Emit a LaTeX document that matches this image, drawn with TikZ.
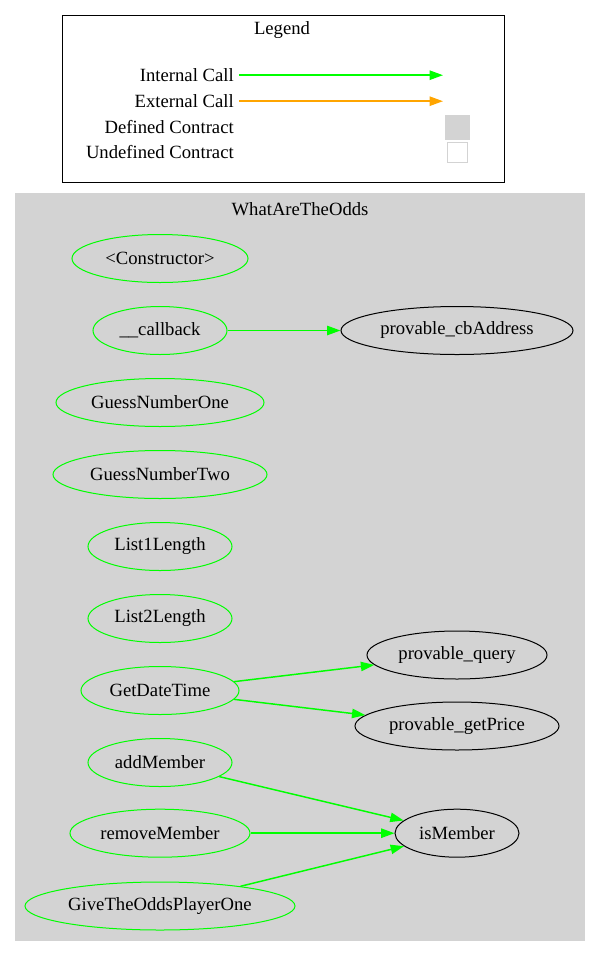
\documentclass[tikz,border=0pt]{standalone}
\usepackage{fontspec}
\setmainfont{Liberation Serif}
\usetikzlibrary{shapes.geometric,arrows.meta}
\definecolor{gvgreen}{HTML}{00FF00}
\definecolor{gvorange}{HTML}{FFA500}
\definecolor{gvgray}{HTML}{D3D3D3}
\tikzset{
  fn/.style={ellipse, draw=gvgreen, line width=0.75pt, inner sep=0pt, minimum height=36pt, minimum width={#1*1.5pt}, font=\fontsize{14}{16}\selectfont},
  ext/.style={ellipse, draw=black, line width=0.75pt, inner sep=0pt, minimum height=36pt, minimum width={#1*1.5pt}, font=\fontsize{14}{16}\selectfont},
  call/.style={draw=gvgreen, line width=1.1pt, -{Triangle[length=10pt,width=7pt]}},
  xcall/.style={draw=gvorange, line width=1.1pt, -{Triangle[length=10pt,width=7pt]}},
  lbl/.style={font=\fontsize{14}{16}\selectfont, inner sep=0pt},
}
\begin{document}
\begin{tikzpicture}[x=0.75pt,y=-0.75pt]
\useasboundingbox (0,0) rectangle (600,957);
% legend
\draw[line width=0.75pt] (62,15) rectangle (504,182);
\node[lbl] (legtitle) at (282,30.5) {Legend};
\node[lbl, anchor=east] (lint) at (234,75.5) {Internal Call};
\node[lbl, anchor=east] (lext) at (234,101.5) {External Call};
\node[lbl, anchor=east] (ldef) at (234,127) {Defined Contract};
\node[lbl, anchor=east] (lund) at (234,152.5) {Undefined Contract};
\coordinate (i1) at (239,75.2);
\coordinate (i2) at (443,75.2);
\coordinate (e1) at (239,101.2);
\coordinate (e2) at (443,101.2);
\draw[call] (i1) -- (i2);
\draw[xcall] (e1) -- (e2);
\node[fill=gvgray, draw=gvgray, minimum width=18pt, minimum height=18pt, inner sep=0pt] (defbox) at (457.5,127) {};
\node[fill=white, draw=gvgray, line width=0.75pt, minimum width=15.5pt, minimum height=15.5pt, inner sep=0pt] (undbox) at (457.5,152.5) {};
% cluster
\fill[gvgray] (15,193) rectangle (585,941);
\node[lbl] (ctitle) at (300,209.5) {WhatAreTheOdds};
% nodes
\node[fn=88] (ctor) at (160,258.5) {<Constructor>};
\node[fn=67] (cb) at (160,330.5) {\_\_callback};
\node[ext=116] (cba) at (457,330.5) {provable\_cbAddress};
\node[fn=104] (g1) at (160,402.5) {GuessNumberOne};
\node[fn=107] (g2) at (160,474.5) {GuessNumberTwo};
\node[fn=72] (l1) at (160,546.5) {List1Length};
\node[fn=72] (l2) at (160,618.5) {List2Length};
\node[fn=79] (gdt) at (160,690.5) {GetDateTime};
\node[ext=90] (pq) at (457,655) {provable\_query};
\node[ext=102] (pgp) at (457,726) {provable\_getPrice};
\node[fn=72] (am) at (160,762.5) {addMember};
\node[fn=90] (rm) at (160,833.2) {removeMember};
\node[ext=62] (ism) at (457,833.2) {isMember};
\node[fn=135] (gto) at (160,906) {GiveTheOddsPlayerOne};
% edges
\draw[call] (cb) -- (cba);
\draw[call] (gdt) -- (pq);
\draw[call] (gdt) -- (pgp);
\draw[call] (am) -- (ism);
\draw[call] (rm) -- (ism);
\draw[call] (gto) -- (ism);
\end{tikzpicture}
\end{document}
